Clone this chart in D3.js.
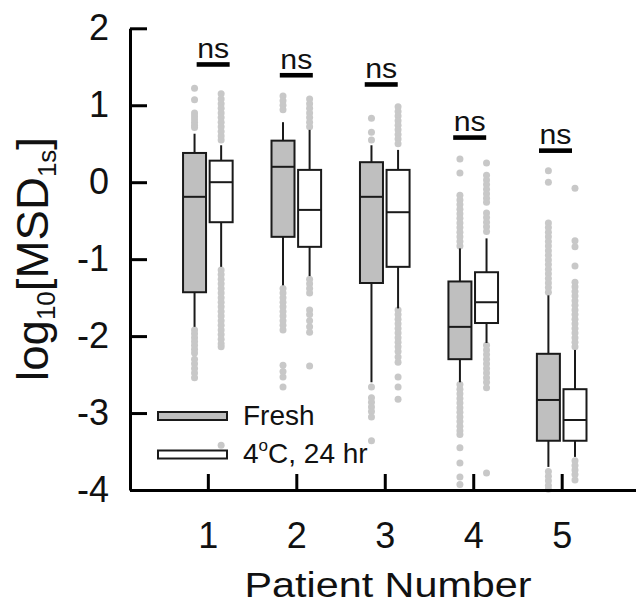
<!DOCTYPE html>
<html>
<head>
<meta charset="utf-8">
<script src="https://cdn.jsdelivr.net/npm/d3@7.9.0/dist/d3.min.js"></script>
<style>
  html, body { margin: 0; padding: 0; background: #fff; }
  svg { display: block; font-family: 'Liberation Sans', Arial, sans-serif; }
</style>
</head>
<body>
<div id="chart"></div>
<script>
// patients on the x axis
const patients = [1, 2, 3, 4, 5];
const groups = ['Fresh', '4°C, 24 hr'];

// Fresh box stats (log10 MSD)
const freshLow = [-1.88, -1.34, -2.6, -2.6, -3.7];
const freshQ1 = [-1.43, -0.71, -1.31, -2.3, -3.36];
const freshMedian = [-0.19, 0.2, -0.19, -1.88, -2.83];
const freshQ3 = [0.38, 0.54, 0.26, -1.29, -2.23];
const freshHigh = [0.63, 0.78, 0.48, -0.86, -1.47];

// 4C 24hr box stats
const storedLow = [-1.1, -1.22, -1.64, -2.09, -3.57];
const storedQ1 = [-0.52, -0.84, -1.1, -1.83, -3.36];
const storedMedian = [0.0, -0.36, -0.39, -1.56, -3.09];
const storedQ3 = [0.28, 0.16, 0.16, -1.17, -2.69];
const storedHigh = [0.48, 0.68, 0.42, -0.73, -2.18];

// outliers
const freshOutliers = [
  [1.22, 1.07, 0.9, 0.86, 0.82, 0.78, 0.74, 0.71,
   -1.92, -1.97, -2.02, -2.07, -2.12, -2.17, -2.22, -2.3, -2.36, -2.42, -2.48, -2.54],
  [1.12, 1.06, 1.0, 0.94,
   -1.38, -1.44, -1.5, -1.56, -1.62, -1.68, -1.74, -1.8, -1.86, -1.92, -2.38, -2.46, -2.53, -2.66],
  [0.83, 0.65, 0.55,
   -2.66, -2.8, -2.86, -2.92, -2.98, -3.05, -3.36],
  [0.3, 0.12, -0.17, -0.23, -0.29, -0.35, -0.41, -0.47, -0.53, -0.59, -0.65, -0.71, -0.77, -0.83,
   -2.63, -2.69, -2.75, -2.81, -2.87, -2.93, -2.99, -3.05, -3.11, -3.17, -3.23, -3.28, -3.45, -3.65, -3.83, -3.93],
  [0.15, 0.0, -0.53, -0.59, -0.65, -0.71, -0.77, -0.83, -0.89, -0.95, -1.01, -1.07, -1.13, -1.19, -1.25, -1.31, -1.37, -1.43,
   -3.76, -3.82, -3.88, -3.94, -3.99],
];
const storedOutliers = [
  [1.15, 1.08, 1.02, 0.96, 0.9, 0.84, 0.78, 0.72, 0.66, 0.6, 0.55,
   -1.14, -1.2, -1.26, -1.32, -1.38, -1.44, -1.5, -1.56, -1.62, -1.68, -1.74, -1.8, -1.86, -1.92, -1.98, -2.04, -2.1, -2.14, -3.42],
  [1.08, 1.02, 0.96, 0.9, 0.84, 0.78, 0.72,
   -1.26, -1.32, -1.38, -1.44, -1.66, -1.72, -1.8, -1.88, -1.95, -2.39],
  [0.98, 0.92, 0.86, 0.8, 0.74, 0.68, 0.62, 0.56, 0.5,
   -1.66, -1.72, -1.78, -1.84, -1.9, -1.96, -2.02, -2.08, -2.14, -2.2, -2.27, -2.34, -2.53, -2.66, -2.82],
  [0.25, 0.09, 0.03, -0.03, -0.09, -0.15, -0.21, -0.26, -0.4, -0.46, -0.52, -0.58, -0.64,
   -2.12, -2.18, -2.24, -2.3, -2.36, -2.42, -2.48, -2.54, -2.6, -2.67, -3.78],
  [-0.08, -0.76, -0.84, -1.09, -1.3, -1.36, -1.42, -1.48, -1.54, -1.6, -1.66, -1.72, -1.78, -1.84, -1.9, -1.96, -2.02, -2.08, -2.14,
   -3.62, -3.68, -3.74, -3.8, -3.87],
];

// "ns" brackets (in data units)
const nsX = [1.06, 2.0, 2.96, 3.96, 4.93];
const nsY = [1.53, 1.39, 1.27, 0.58, 0.41];

const yTicks = [-4, -3, -2, -1, 0, 1, 2];

const width = 636;
const height = 605;

const svg = d3.select('#chart').append('svg')
  .attr('width', width)
  .attr('height', height);

const x = d3.scaleLinear().domain([0.12, 5.84]).range([130, 636]);
const y = d3.scaleLinear().domain([-4, 2]).range([490, 28.3]);

const boxW = 23;
const offset = 13.3;

const series = [
  { name: groups[0], fill: '#bfbfbf', dx: -offset, low: freshLow, q1: freshQ1, med: freshMedian, q3: freshQ3, high: freshHigh, out: freshOutliers },
  { name: groups[1], fill: '#ffffff', dx: offset, low: storedLow, q1: storedQ1, med: storedMedian, q3: storedQ3, high: storedHigh, out: storedOutliers },
];

const boxes = series.flatMap((s) =>
  patients.map((p, i) => ({
    cx: x(p) + s.dx, fill: s.fill,
    low: s.low[i], q1: s.q1[i], med: s.med[i], q3: s.q3[i], high: s.high[i], out: s.out[i],
  }))
);

// outliers
svg.append('g').selectAll('circle')
  .data(boxes.flatMap((b) => b.out.map((v) => ({ cx: b.cx, v }))))
  .join('circle')
  .attr('cx', (d) => d.cx)
  .attr('cy', (d) => y(d.v))
  .attr('r', 3.5)
  .attr('fill', '#c8c8c8');

// whiskers
const bg = svg.append('g');
bg.selectAll('line.whisker')
  .data(boxes)
  .join('line')
  .attr('class', 'whisker')
  .attr('x1', (d) => d.cx).attr('x2', (d) => d.cx)
  .attr('y1', (d) => y(d.low)).attr('y2', (d) => y(d.high))
  .attr('stroke', '#1a1a1a').attr('stroke-width', 2);

bg.selectAll('rect')
  .data(boxes)
  .join('rect')
  .attr('x', (d) => d.cx - boxW / 2)
  .attr('width', boxW)
  .attr('y', (d) => y(d.q3))
  .attr('height', (d) => y(d.q1) - y(d.q3))
  .attr('fill', (d) => d.fill)
  .attr('stroke', '#1a1a1a').attr('stroke-width', 2);

bg.selectAll('line.median')
  .data(boxes)
  .join('line')
  .attr('class', 'median')
  .attr('x1', (d) => d.cx - boxW / 2).attr('x2', (d) => d.cx + boxW / 2)
  .attr('y1', (d) => y(d.med)).attr('y2', (d) => y(d.med))
  .attr('stroke', '#1a1a1a').attr('stroke-width', 2);

// ns labels
const ns = svg.append('g');
ns.selectAll('rect')
  .data(patients)
  .join('rect')
  .attr('x', (d, i) => x(nsX[i]) - 16.5)
  .attr('y', (d, i) => y(nsY[i]) - 2.3)
  .attr('width', 33)
  .attr('height', 4.6)
  .attr('fill', '#000');
ns.selectAll('text')
  .data(patients)
  .join('text')
  .attr('x', (d, i) => x(nsX[i]))
  .attr('y', (d, i) => y(nsY[i]) - 6.5)
  .attr('text-anchor', 'middle')
  .attr('font-size', 27)
  .attr('textLength', 32)
  .attr('lengthAdjust', 'spacingAndGlyphs')
  .attr('fill', '#111')
  .text('ns');

// axes
const yAxis = svg.append('g')
  .attr('transform', 'translate(130,0)')
  .call(d3.axisLeft(y).tickValues(yTicks).tickFormat((d) => String(d))
    .tickSizeInner(-17).tickSizeOuter(0).tickPadding(21));
const xAxis = svg.append('g')
  .attr('transform', 'translate(0,490)')
  .call(d3.axisBottom(x).tickValues(patients).tickFormat((d) => String(d))
    .tickSizeInner(-16).tickSizeOuter(0).tickPadding(32));

[yAxis, xAxis].forEach((g) => {
  g.attr('font-family', null).attr('font-size', 36);
  g.selectAll('path, line').attr('stroke', '#000').attr('stroke-width', 3);
  g.selectAll('text').attr('fill', '#111');
});

// axis titles
svg.append('text')
  .attr('x', 388)
  .attr('y', 597)
  .attr('text-anchor', 'middle')
  .attr('font-size', 35)
  .attr('textLength', 287)
  .attr('lengthAdjust', 'spacingAndGlyphs')
  .attr('fill', '#111')
  .text('Patient Number');

const yTitle = svg.append('text')
  .attr('transform', 'translate(48,259) rotate(-90)')
  .attr('text-anchor', 'middle')
  .attr('font-size', 44)
  .attr('textLength', 244)
  .attr('lengthAdjust', 'spacingAndGlyphs')
  .attr('fill', '#111');
yTitle.append('tspan').text('log');
yTitle.append('tspan').attr('font-size', 25).attr('dy', 7).text('10');
yTitle.append('tspan').attr('dy', -7).text('[MSD');
yTitle.append('tspan').attr('font-size', 25).attr('dy', 8).text('1s');
yTitle.append('tspan').attr('dy', -8).text(']');

// legend
const legend = svg.append('g');
legend.selectAll('rect')
  .data(series)
  .join('rect')
  .attr('x', 158)
  .attr('y', (d, i) => 412 + i * 38.5)
  .attr('width', 69)
  .attr('height', 8)
  .attr('fill', (d) => d.fill)
  .attr('stroke', '#1a1a1a').attr('stroke-width', 2);

legend.append('text')
  .attr('x', 243).attr('y', 425)
  .attr('font-size', 28).attr('fill', '#111')
  .text(groups[0]);
const l2 = legend.append('text')
  .attr('x', 243).attr('y', 463)
  .attr('font-size', 28).attr('fill', '#111');
l2.append('tspan').text('4');
l2.append('tspan').attr('font-size', 17).attr('dy', -12).text('o');
l2.append('tspan').attr('dy', 12).text('C, 24 hr');
</script>
</body>
</html>
